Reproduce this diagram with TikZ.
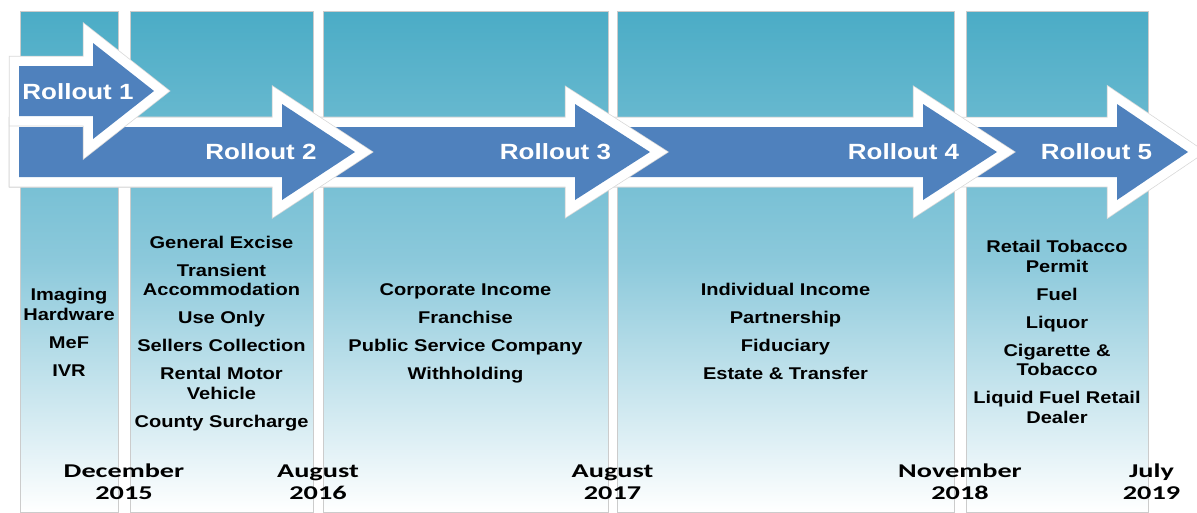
\documentclass[tikz,border=0pt]{standalone}
\usepackage{fontspec}
\setmainfont{Liberation Sans}[FakeStretch=1.18]
\newfontfamily\datefont{Carlito}[FakeStretch=1.45]
\usepackage{tikz}

\definecolor{rollblue}{RGB}{79,129,189}
\definecolor{aquatop}{RGB}{75,172,198}
\definecolor{aquamid}{RGB}{140,201,219}

\newcommand{\gap}{8.5pt}

\begin{document}
\begin{tikzpicture}[x=1pt, y=-1pt,
		band/.style={top color=aquatop, bottom color=white, middle color=aquamid, draw=gray!40, line width=0.6pt},
		rollout/.style={fill=rollblue, line join=miter,
			preaction={draw=gray!30, line width=20.5pt, line join=miter},
			preaction={draw=white, line width=19pt, line join=miter}},
		rolltext/.style={anchor=base, text=white, font=\fontsize{22}{26}\selectfont\bfseries},
		item/.style={anchor=base, align=center, font=\fontsize{17}{19.5}\selectfont\bfseries},
		date/.style={anchor=base, align=center, font=\datefont\fontsize{19.5}{22}\selectfont\bfseries}]
		\useasboundingbox (0,0) rectangle (1197,512);

		\foreach \l/\r in {20/118, 130/313, 323/608, 617/954, 966/1148}
			\draw[band] (\l,11) rectangle (\r,512);

		\foreach \b/\t/\c in {1117/1188/152, 923/997/152, 575/650/152, 282/355/152, 93/154/91}
			\path[rollout] (19,{\c-25}) -- (\b,{\c-25}) -- (\b,{\c-48}) -- (\t,\c)
				-- (\b,{\c+48}) -- (\b,{\c+25}) -- (19,{\c+25}) -- cycle;

		\node[rolltext] (r1) at (78,99) {Rollout 1};
		\node[rolltext] (r2) at (261,159) {Rollout 2};
		\node[rolltext] (r3) at (555.5,159) {Rollout 3};
		\node[rolltext] (r4) at (903.5,159) {Rollout 4};
		\node[rolltext] (r5) at (1096.5,159) {Rollout 5};

		% base of a stacked node sits on its last line
		\node[item] (c1) at (69,376) {Imaging\\Hardware\\[\gap]MeF\\[\gap]IVR};
		\node[item] (c2) at (221.5,427) {General Excise\\[\gap]Transient\\Accommodation\\[\gap]Use Only\\[\gap]Sellers Collection\\[\gap]Rental Motor\\Vehicle\\[\gap]County Surcharge};
		\node[item] (c3) at (465.5,379) {Corporate Income\\[\gap]Franchise\\[\gap]Public Service Company\\[\gap]Withholding};
		\node[item] (c4) at (785.5,379) {Individual Income\\[\gap]Partnership\\[\gap]Fiduciary\\[\gap]Estate \& Transfer};
		\node[item] (c5) at (1057,423) {Retail Tobacco\\Permit\\[\gap]Fuel\\[\gap]Liquor\\[\gap]Cigarette \&\\Tobacco\\[\gap]Liquid Fuel Retail\\Dealer};

		\node[date] (d1) at (124,499) {December\\2015};
		\node[date] (d2) at (318,499) {August\\2016};
		\node[date] (d3) at (612.5,499) {August\\2017};
		\node[date] (d4) at (960,499) {November\\2018};
		\node[date] (d5) at (1151.5,499) {July\\2019};
	\end{tikzpicture}
\end{document}
